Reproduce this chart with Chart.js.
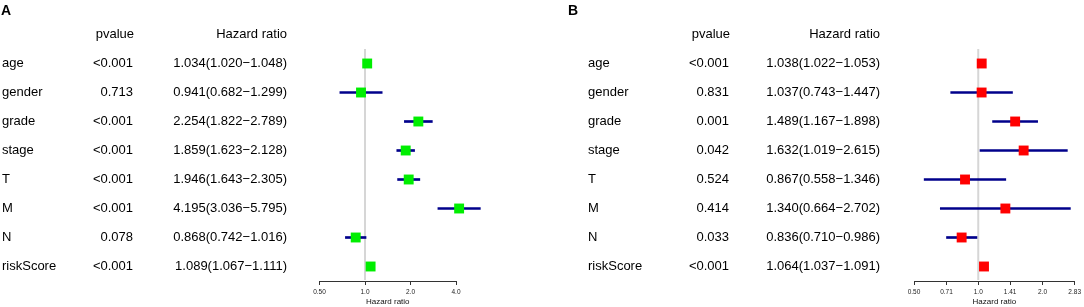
<!DOCTYPE html>
<html>
<head>
<meta charset="utf-8">
<script src="https://cdn.jsdelivr.net/npm/chart.js@4"></script>
<style>
  body { margin: 0; background: #fff; }
  #wrap { position: relative; width: 1084px; height: 307px; }
  canvas { position: absolute; top: 0; }
</style>
</head>
<body>
<div id="wrap">
  <canvas id="cA" width="540" height="307" style="left:0"></canvas>
  <canvas id="cB" width="544" height="307" style="left:540px"></canvas>
</div>
<script>
const names = ["age", "gender", "grade", "stage", "T", "M", "N", "riskScore"];

// panel A
const pA = ["<0.001", "0.713", "<0.001", "<0.001", "<0.001", "<0.001", "0.078", "<0.001"];
const hrA = [1.034, 0.941, 2.254, 1.859, 1.946, 4.195, 0.868, 1.089];
const lowA = [1.020, 0.682, 1.822, 1.623, 1.643, 3.036, 0.742, 1.067];
const highA = [1.048, 1.299, 2.789, 2.128, 2.305, 5.795, 1.016, 1.111];
const tickValA = [0.5, 1, 2, 4];
const tickLabA = ["0.50", "1.0", "2.0", "4.0"];

// panel B
const pB = ["<0.001", "0.831", "0.001", "0.042", "0.524", "0.414", "0.033", "<0.001"];
const hrB = [1.038, 1.037, 1.489, 1.632, 0.867, 1.340, 0.836, 1.064];
const lowB = [1.022, 0.743, 1.167, 1.019, 0.558, 0.664, 0.710, 1.037];
const highB = [1.053, 1.447, 1.898, 2.615, 1.346, 2.702, 0.986, 1.091];
const tickValB = [0.5, 0.71, 1, 1.41, 2, 2.83];
const tickLabB = ["0.50", "0.71", "1.0", "1.41", "2.0", "2.83"];

const FONT = "'Liberation Sans', Arial, Helvetica, sans-serif";

function forest(id, cfg) {
  const txt = {
    id: "txt",
    beforeDatasetsDraw(chart) {
      const { ctx, chartArea, scales } = chart;
      const x1 = scales.x.getPixelForValue(1);
      ctx.save();
      ctx.strokeStyle = "#d6d6d6";
      ctx.lineWidth = 2;
      ctx.beginPath();
      ctx.moveTo(x1, chartArea.top);
      ctx.lineTo(x1, chartArea.bottom - 1);
      ctx.stroke();
      ctx.restore();
    },
    afterDraw(chart) {
      const { ctx, scales } = chart;
      const y = scales.y;
      ctx.save();
      ctx.fillStyle = "#000";
      ctx.textBaseline = "middle";
      ctx.font = "bold 14px " + FONT;
      ctx.textAlign = "left";
      ctx.fillText(cfg.letter, cfg.letterX, 11);
      ctx.font = "13px " + FONT;
      const step = y.getPixelForValue(1) - y.getPixelForValue(0);
      const yh = y.getPixelForValue(0) - step;
      ctx.textAlign = "right";
      ctx.fillText("pvalue", cfg.pX + 1, yh);
      ctx.fillText("Hazard ratio", cfg.hrX, yh);
      names.forEach((n, i) => {
        const yy = y.getPixelForValue(i);
        ctx.textAlign = "left";
        ctx.fillText(n, cfg.nameX, yy);
        ctx.textAlign = "right";
        ctx.fillText(cfg.p[i], cfg.pX, yy);
        ctx.fillText(cfg.hr[i].toFixed(3) + "(" + cfg.low[i].toFixed(3) + "\u2212" + cfg.high[i].toFixed(3) + ")", cfg.hrX, yy);
      });
      ctx.restore();
    }
  };

  return new Chart(document.getElementById(id), {
    type: "bar",
    data: {
      labels: names,
      datasets: [
        {
          type: "line",
          data: cfg.hr,
          showLine: false,
          pointStyle: "rect",
          pointRadius: 7,
          pointHoverRadius: 7,
          pointBorderWidth: 0,
          pointBackgroundColor: cfg.color,
          borderColor: cfg.color,
          clip: false
        },
        {
          data: cfg.low.map((v, i) => [v, cfg.high[i]]),
          backgroundColor: "#00008b",
          barThickness: 2,
          borderSkipped: false,
          clip: false
        }
      ]
    },
    options: {
      indexAxis: "y",
      responsive: false,
      animation: false,
      layout: { padding: { left: cfg.left, right: cfg.right, top: 49, bottom: 0 } },
      plugins: { legend: { display: false }, tooltip: { enabled: false } },
      scales: {
        y: { display: false, offset: true },
        x: {
          type: "logarithmic",
          min: cfg.tv[0],
          max: cfg.tv[cfg.tv.length - 1],
          afterBuildTicks(s) { s.ticks = cfg.tv.map(v => ({ value: v })); },
          afterFit(s) { s.height = 26; },
          border: { display: true, color: "#333", width: 1 },
          grid: { drawOnChartArea: false, drawTicks: true, tickLength: 4, color: "#333" },
          ticks: {
            autoSkip: false, maxRotation: 0, padding: 3, color: "#222",
            font: { family: FONT, size: 6.5 },
            callback: (v, i) => cfg.tl[i]
          },
          title: {
            display: true, text: "Hazard ratio", color: "#111",
            font: { family: FONT, size: 8 }, padding: 0
          }
        }
      }
    },
    plugins: [txt]
  });
}

forest("cA", {
  letter: "A", letterX: 1, nameX: 2, pX: 133, hrX: 287,
  left: 319.5, right: 84,
  p: pA, hr: hrA, low: lowA, high: highA, tv: tickValA, tl: tickLabA, color: "#00ee00"
});
forest("cB", {
  letter: "B", letterX: 28, nameX: 48, pX: 189, hrX: 340,
  left: 374, right: 9,
  p: pB, hr: hrB, low: lowB, high: highB, tv: tickValB, tl: tickLabB, color: "#ff0000"
});
</script>
</body>
</html>
